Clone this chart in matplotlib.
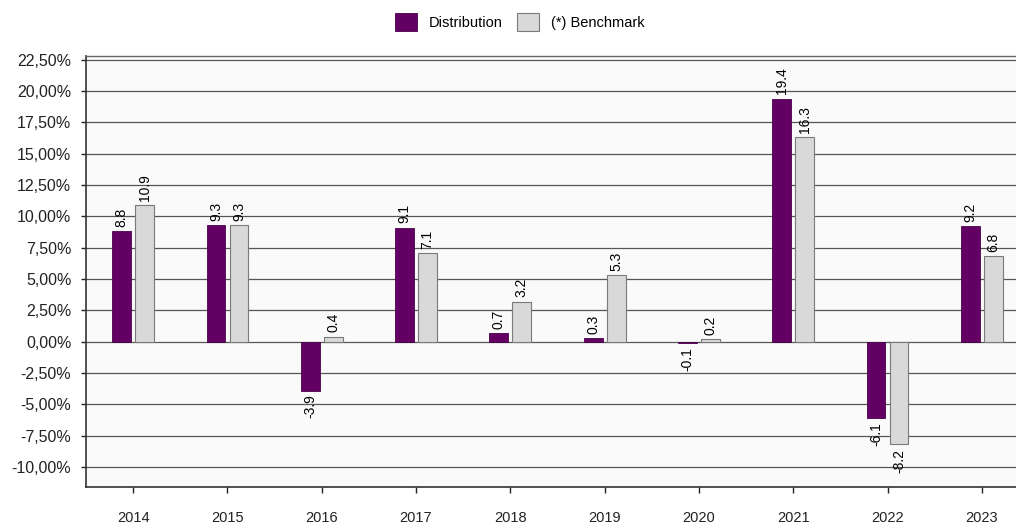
import numpy as np
import matplotlib.pyplot as plt
from matplotlib.ticker import FuncFormatter

years = ['2014', '2015', '2016', '2017', '2018', '2019', '2020', '2021', '2022', '2023']
distribution = [8.8, 9.3, -3.9, 9.1, 0.7, 0.3, -0.1, 19.4, -6.1, 9.2]
benchmark = [10.9, 9.3, 0.4, 7.1, 3.2, 5.3, 0.2, 16.3, -8.2, 6.8]
y_ticks = [-10, -7.5, -5, -2.5, 0, 2.5, 5, 7.5, 10, 12.5, 15, 17.5, 20, 22.5]

plt.rcParams['font.family'] = ['Liberation Sans', 'DejaVu Sans']

W, H = 1016, 527
fig = plt.figure(figsize=(W / 100, H / 100), dpi=100)
# axes run past the right edge of the picture, as in the reference
left, right, top, bottom = 86, 86 + 10 * 94.3, 56, 487
ax = fig.add_axes([left / W, 1 - bottom / H, (right - left) / W, (bottom - top) / H])
ax.set_facecolor('#fafafa')

x = np.arange(len(years))
bw = 0.2
off = 0.122
purple = '#630063'
grey = '#d9d9d9'
b1 = ax.bar(x - off, distribution, bw, color=purple, edgecolor='#4a004a', linewidth=0.6,
            label='Distribution', zorder=3)
b2 = ax.bar(x + off, benchmark, bw, color=grey, edgecolor='#7a7a7a', linewidth=0.8,
            label='(*) Benchmark', zorder=3)

# value labels, rotated
for bars, vals in ((b1, distribution), (b2, benchmark)):
    for r, v in zip(bars, vals):
        cx = r.get_x() + r.get_width() / 2
        if v >= 0:
            ax.annotate('{:.1f}'.format(v), (cx, v), xytext=(0, 3), textcoords='offset points',
                        rotation=90, ha='center', va='bottom', fontsize=10, zorder=4)
        else:
            ax.annotate('{:.1f}'.format(v), (cx, v), xytext=(0, -3), textcoords='offset points',
                        rotation=90, ha='center', va='top', fontsize=10, zorder=4)

ax.set_xlim(-0.5, len(years) - 0.5)
ax.set_ylim(-11.6, 22.8)
ax.set_yticks(y_ticks)
ax.yaxis.set_major_formatter(FuncFormatter(lambda v, p: '{:.2f}%'.format(v).replace('.', ',')))
ax.set_xticks(x)
ax.set_xticklabels(years)
ax.grid(axis='y', color='#555555', linewidth=0.9, zorder=1)
ax.tick_params(axis='y', length=3.6, width=1, labelsize=11.5, colors='#222222', pad=7)
ax.tick_params(axis='x', length=4.5, width=1, labelsize=10.5, colors='#222222', pad=13)

for s in ('left', 'bottom'):
    ax.spines[s].set_color('#333333')
    ax.spines[s].set_linewidth(1.2)
ax.spines['top'].set_color('#666666')
ax.spines['top'].set_linewidth(1.0)
ax.spines['right'].set_visible(False)

fig.legend(handles=[b1, b2], loc='center', bbox_to_anchor=(520 / W, 1 - 22 / H), ncol=2,
           frameon=False, fontsize=10.5, handlelength=1.5, handleheight=1.5,
           columnspacing=1.0, handletextpad=0.8)

fig.savefig('out.png', dpi=100)
